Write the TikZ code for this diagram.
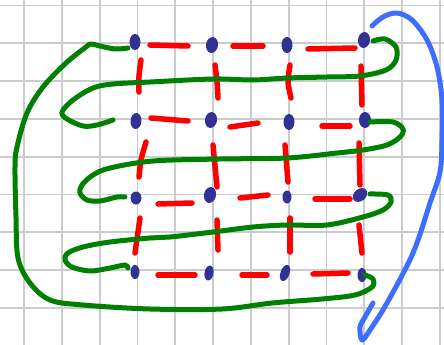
\documentclass[tikz,border=0pt]{standalone}
\usetikzlibrary{shapes.geometric}
\definecolor{gridgray}{RGB}{204,204,204}
\definecolor{dotblue}{RGB}{50,50,150}
\definecolor{penred}{RGB}{255,0,0}
\definecolor{pengreen}{RGB}{0,128,0}
\definecolor{penblue}{RGB}{60,110,255}
\tikzset{
  gridline/.style={draw=gridgray,line width=1.8pt},
  dotnode/.style={ellipse,fill=dotblue,inner sep=0pt,minimum width=11pt,minimum height=16pt},
  reddash/.style={draw=penred,line width=5.5pt,line cap=round},
  greenpen/.style={draw=pengreen,line width=5pt,line cap=round,line join=round},
  bluepen/.style={draw=penblue,line width=5pt,line cap=round,line join=round},
}
\begin{document}
\begin{tikzpicture}[x=1pt,y=-1pt]
\useasboundingbox (0,0) rectangle (444,345);
\fill[white] (0,0) rectangle (444,345);
% grid
\foreach \k in {0,...,11} { \draw[gridline] ({24+37.8*\k},0) -- ({24+37.8*\k},345); }
\foreach \k in {0,...,9} { \draw[gridline] (0,{5.5+37.8*\k}) -- (444,{5.5+37.8*\k}); }

% red dashes
\draw[reddash] (150,45) -- (188,46);
\draw[reddash] (233,46) -- (263,46);
\draw[reddash] (308,49) -- (355,48);
\draw[reddash] plot[smooth] coordinates {(141,60) (139,76) (139,92)};
\draw[reddash] plot[smooth] coordinates {(215,65) (217,82) (218,98)};
\draw[reddash] plot[smooth] coordinates {(290,65) (288,82) (291,98)};
\draw[reddash] (361,66) -- (362,105);
\draw[reddash] (151,118) -- (188,121);
\draw[reddash] (230,127) -- (258,123);
\draw[reddash] (322,126) -- (350,126);
\draw[reddash] plot[smooth] coordinates {(146,142) (141,160) (139,177)};
\draw[reddash] (213,145) -- (217,187);
\draw[reddash] (285,145) -- (288,182);
\draw[reddash] (359,143) -- (360,185);
\draw[reddash] (158,204) -- (192,203);
\draw[reddash] (240,198) -- (268,195);
\draw[reddash] (315,199) -- (350,199);
\draw[reddash] (140,218) -- (135,253);
\draw[reddash] (217,220) -- (218,250);
\draw[reddash] (290,218) -- (290,252);
\draw[reddash] (359,225) -- (362,253);
\draw[reddash] (158,275) -- (195,275);
\draw[reddash] (242,275) -- (267,275);
\draw[reddash] (313,274) -- (348,273);

% dots
\node[dotnode] (d11) at (135,42) {};
\node[dotnode,rotate=-10,minimum width=12pt] (d12) at (212,45) {};
\node[dotnode] (d13) at (287,45) {};
\node[dotnode,rotate=-8,minimum width=12pt] (d14) at (364,40) {};
\node[dotnode,rotate=-5] (d21) at (136,121) {};
\node[dotnode,rotate=-10,minimum width=12pt] (d22) at (211,120) {};
\node[dotnode] (d23) at (289,122) {};
\node[dotnode,minimum width=12pt] (d24) at (365,120) {};
\node[dotnode,minimum width=11pt,minimum height=13pt] (d31) at (136,198) {};
\node[dotnode,rotate=-12,minimum width=12pt] (d32) at (210,195) {};
\node[dotnode,minimum width=9pt,minimum height=13pt] (d33) at (287,197) {};
\node[dotnode,rotate=-50,minimum width=12pt,minimum height=16pt] (d34) at (360,195) {};
\node[dotnode,minimum width=9pt,minimum height=14pt] (d41) at (135,272) {};
\node[dotnode,rotate=-10,minimum width=9pt,minimum height=15pt] (d42) at (209,273) {};
\node[dotnode,rotate=-20,minimum width=9pt,minimum height=17pt] (d43) at (285,273) {};
\node[dotnode,minimum width=9pt,minimum height=14pt] (d44) at (362,275) {};

% green serpentine strokes
\draw[greenpen] plot[smooth,tension=0.55] coordinates {
  (128,48) (115,49) (100,46) (91,44) (86,47) (66,63) (43,87) (27,113) (17,147)
  (15,167) (16,217) (18,258) (30,283) (50,300) (83,305) (150,309) (222,309)
  (272,303) (322,299) (355,295) (372,287) (373,279) (365,275)};
\draw[greenpen] plot[smooth,tension=0.55] coordinates {
  (373,41) (385,39) (396,47) (396,60) (386,70) (360,76) (327,77) (287,78)
  (253,80) (213,79) (150,82) (113,84) (93,88) (73,100) (62,112) (67,119)
  (83,126) (97,125) (113,120)};
\draw[greenpen] plot[smooth,tension=0.55] coordinates {
  (370,122) (393,122) (403,129) (400,137) (387,145) (363,150) (337,153)
  (287,158) (220,159) (153,161) (110,168) (93,175) (82,185) (80,193)
  (87,200) (100,201) (117,197) (125,197)};
\draw[greenpen] plot[smooth,tension=0.55] coordinates {
  (370,194) (388,195) (391,202) (383,210) (363,217) (327,225) (287,225)
  (253,227) (213,232) (170,237) (150,238) (110,242) (83,247) (68,253)
  (65,260) (72,267) (90,271) (110,268) (125,265) (128,268)};

% blue stroke
\draw[bluepen] plot[smooth,tension=0.55] coordinates {
  (372,26) (383,17) (397,13) (412,20) (427,40) (437,67) (442,100) (442,140)
  (440,172) (430,203) (413,253) (387,303) (370,330) (362,340) (360,327)
  (365,317) (373,303)};
\end{tikzpicture}
\end{document}
